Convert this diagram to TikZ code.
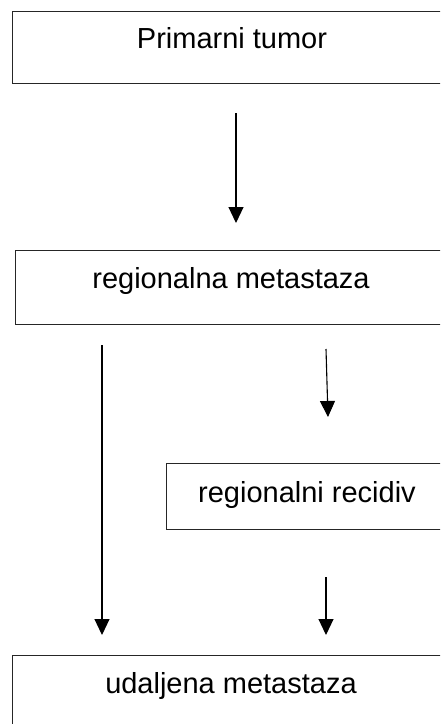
\documentclass[tikz,border=0pt]{standalone}
\usepackage{fontspec}
\setmainfont{Liberation Sans}
\usetikzlibrary{arrows.meta}
\tikzset{
  boxnode/.style={draw=black!85, line width=1.1pt, rectangle, inner sep=0pt, anchor=north west},
  lbl/.style={anchor=base, inner sep=0pt, font=\fontsize{29}{35}\selectfont},
  arr/.style={line width=1.1pt, -{Triangle[length=16pt,width=15pt]}}
}
\begin{document}
\begin{tikzpicture}[x=1pt,y=-1pt]
\useasboundingbox (0,0) rectangle (440,724);
\clip (0,0) rectangle (440,724);
% boxes
\node[boxnode, minimum width=440pt, minimum height=72pt] (b1) at (12,11) {};
\node[boxnode, minimum width=440pt, minimum height=74pt] (b2) at (15,250) {};
\node[boxnode, minimum width=290pt, minimum height=66pt] (b3) at (166,463) {};
\node[boxnode, minimum width=440pt, minimum height=90pt] (b4) at (12,655) {};
% labels
\node[lbl] (t1) at (232,48) {Primarni tumor};
\node[lbl] (t2) at (231,288) {regionalna metastaza};
\node[lbl] (t3) at (307,502) {regionalni recidiv};
\node[lbl] (t4) at (231,693) {udaljena metastaza};
% arrow end points
\coordinate (a1s) at (236,113);
\coordinate (a1e) at (236,223);
\coordinate (a2s) at (102,345);
\coordinate (a2e) at (102,635);
\coordinate (a3s) at (326,349);
\coordinate (a3e) at (328,417);
\coordinate (a4s) at (326,577);
\coordinate (a4e) at (326,635);
\draw[arr] (a1s) -- (a1e);
\draw[arr] (a2s) -- (a2e);
\draw[arr] (a3s) -- (a3e);
\draw[arr] (a4s) -- (a4e);
\end{tikzpicture}
\end{document}
